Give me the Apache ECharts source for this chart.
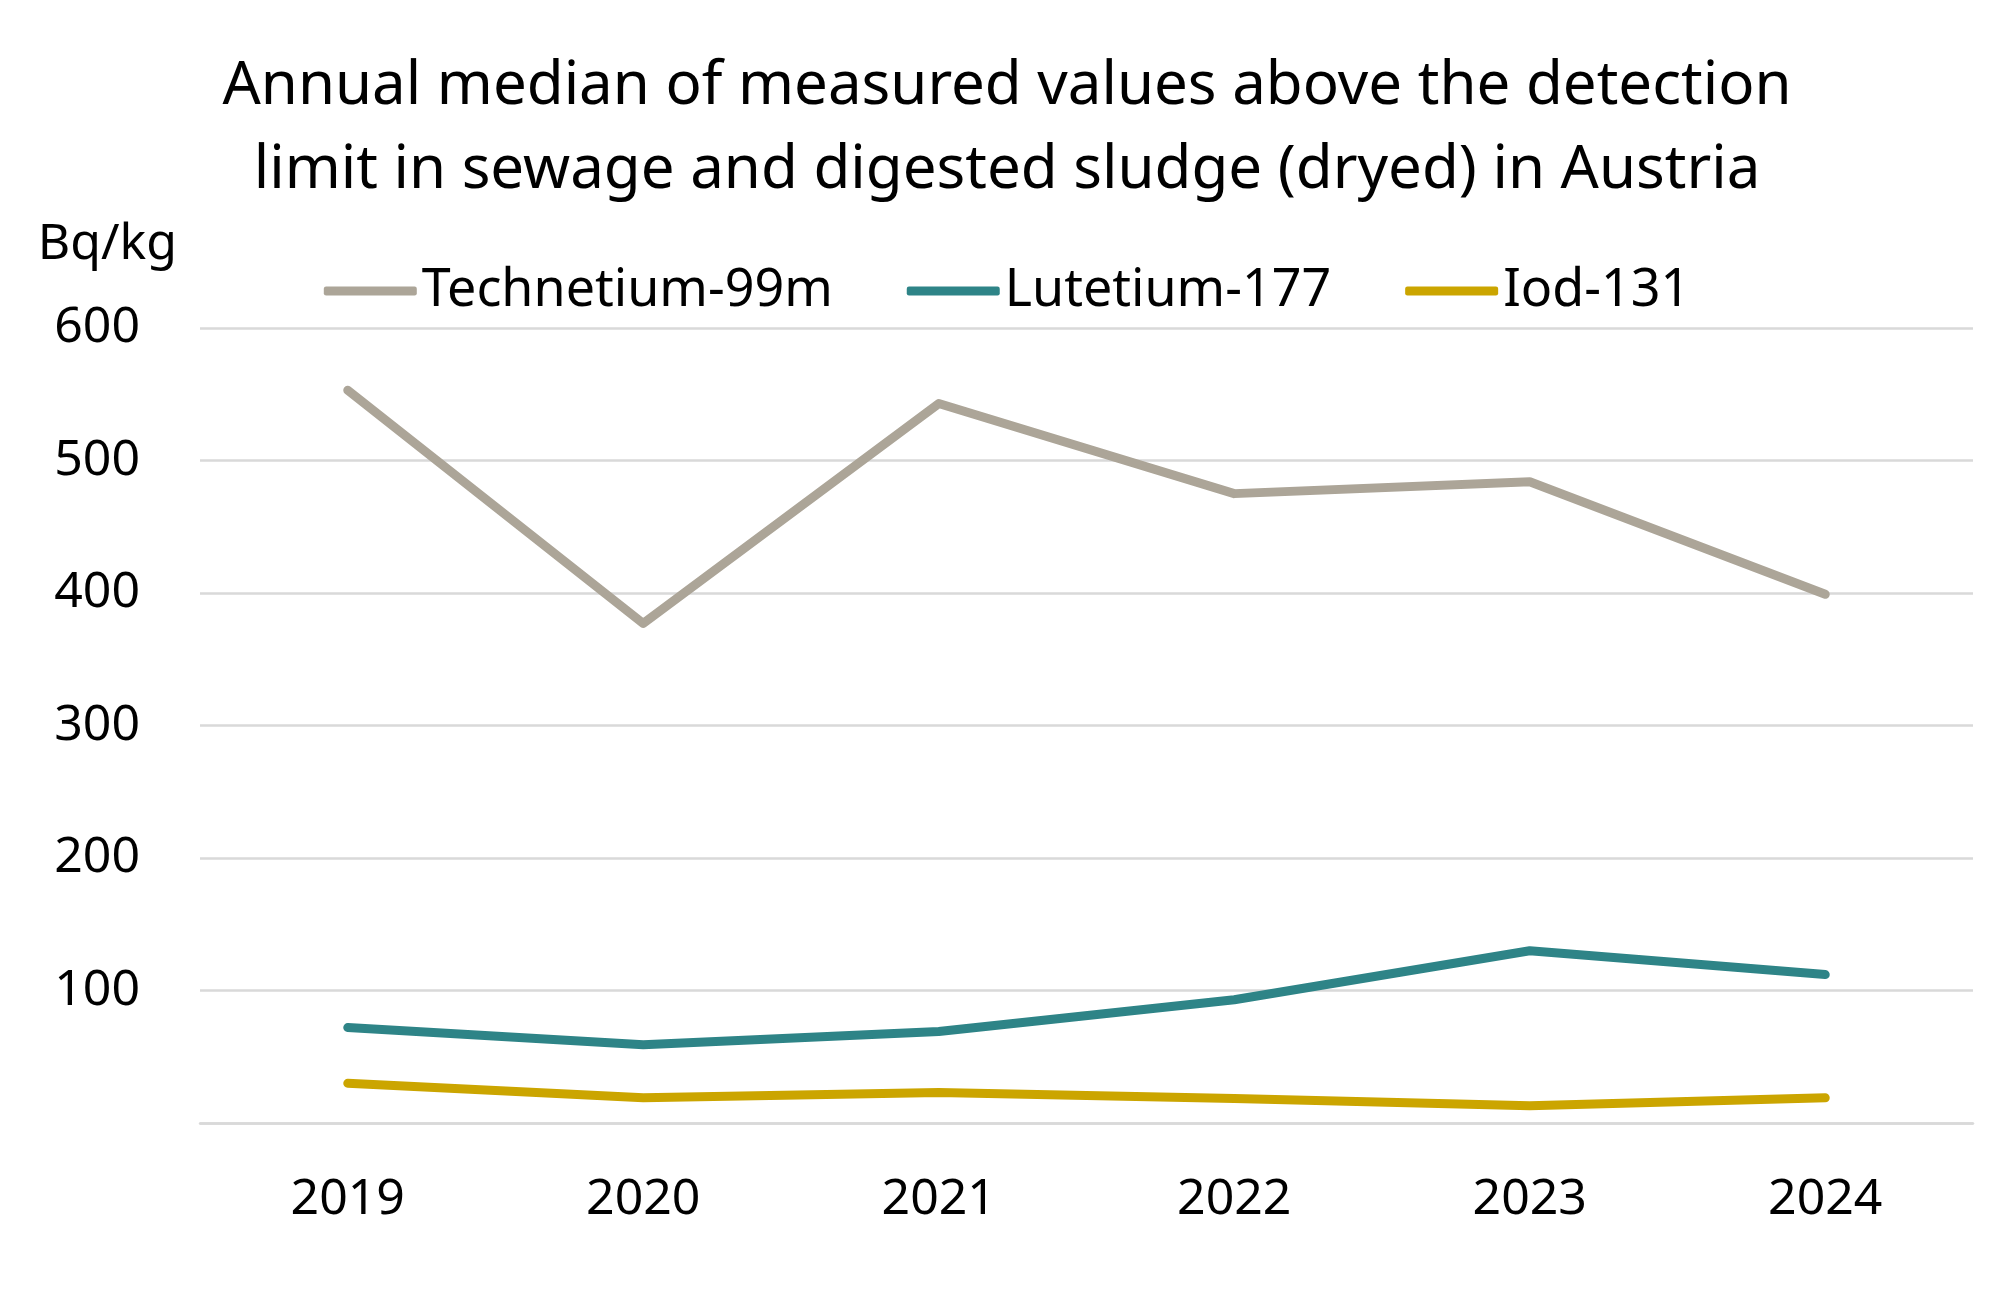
<!DOCTYPE html>
<html><head><meta charset="utf-8">
<script src="https://cdn.jsdelivr.net/npm/echarts@6/dist/echarts.min.js"></script>
<style>html,body{margin:0;padding:0;background:#fff}#c{width:2014px;height:1299px}</style>
</head><body><div id="c"></div>
<script>
const years = ['2019','2020','2021','2022','2023','2024'];
const technetium = [553, 377, 543, 475, 484, 399];
const lutetium = [72, 59, 69, 93, 130, 112];
const iod = [30, 19, 23, 18.5, 13, 19];
const seriesNames = ['Technetium-99m','Lutetium-177','Iod-131'];
const colors = ['#aca598','#2e8487','#cba500'];
const FONT = 'Noto Sans';
const chart = echarts.init(document.getElementById('c'));
const mk = (name, data, color) => ({
  name, type:'line', data, symbol:'none', color,
  lineStyle:{width:9, color, cap:'round', join:'round'}
});
chart.setOption({
  animation:false,
  textStyle:{fontFamily:FONT},
  title:{
    text:'Annual median of measured values above the detection\nlimit in sewage and digested sludge (dryed) in Austria',
    left:'center', top:40,
    textStyle:{fontFamily:FONT, fontSize:60, fontWeight:'normal', color:'#000', lineHeight:84}
  },
  legend:{
    top:260, left:'center', itemGap:74, itemWidth:93, itemHeight:9, icon:'roundRect',
    textStyle:{fontFamily:FONT, fontSize:52, color:'#000'},
    data:seriesNames
  },
  grid:{left:200, right:41, top:328, bottom:176},
  xAxis:{
    type:'category', data:years, boundaryGap:true,
    axisLine:{show:true, lineStyle:{color:'#d9d9d9', width:2.5}},
    axisTick:{show:false},
    axisLabel:{fontFamily:FONT, fontSize:50, color:'#000', margin:52}
  },
  yAxis:{
    type:'value', min:0, max:600, interval:100,
    name:'Bq/kg', nameLocation:'end', nameGap:58,
    nameTextStyle:{fontFamily:FONT, fontSize:50, color:'#000', align:'right', padding:[0,23,0,0]},
    axisLine:{show:false}, axisTick:{show:false},
    splitLine:{lineStyle:{color:'#d9d9d9', width:2.5}},
    axisLabel:{fontFamily:FONT, fontSize:50, color:'#000', margin:60,
      formatter: v => v === 0 ? '' : String(v)}
  },
  series:[mk(seriesNames[0], technetium, colors[0]), mk(seriesNames[1], lutetium, colors[1]), mk(seriesNames[2], iod, colors[2])]
});
</script></body></html>
